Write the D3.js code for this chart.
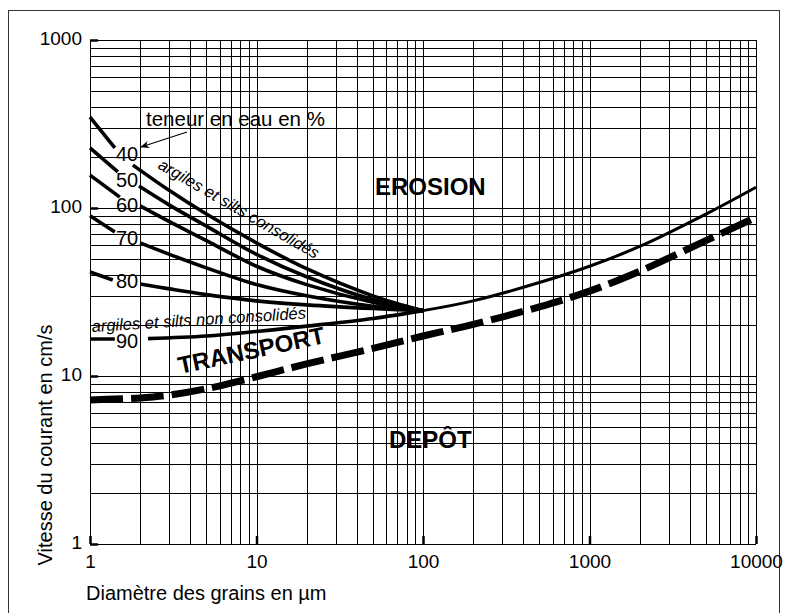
<!DOCTYPE html>
<html>
<head>
<meta charset="utf-8">
<script src="https://cdn.jsdelivr.net/npm/d3@7"></script>
<style>
  body { margin: 0; background: #fff; }
  svg text { font-family: "Liberation Sans", Arial, sans-serif; fill: #000; }
</style>
</head>
<body>
<svg id="chart" width="787" height="613"></svg>
<script>
// Hjulström-type diagram: erosion / transport / deposition

const xDecades = [1, 10, 100, 1000, 10000];
const yDecades = [1, 10, 100, 1000];

// erosion curves for cohesive clays/silts, by water content (%)
// null = gap where the label sits
const waterContents = ["40", "50", "60", "70", "80", "90"];
const curve40 = [[1, 348], [1.41, 228], null, [1.81, 180], [3, 127], [5, 92], [10, 62], [20, 43.5], [50, 30], [100, 24.5]];
const curve50 = [[1, 228], [1.47, 164], null, [1.97, 135], [3, 104], [5, 78], [10, 53], [20, 39], [50, 28.5], [100, 24.5]];
const curve60 = [[1, 157], [1.51, 116], null, [2, 103], [3, 83], [5, 64], [10, 45], [20, 35], [50, 27.5], [100, 24.5]];
const curve70 = [[1, 90], [1.41, 72], null, [2, 62], [3, 53], [5, 44], [10, 35], [20, 30], [50, 26], [100, 24.5]];
const curve80 = [[1, 41.6], [1.37, 37.3], null, [2, 35.3], [3, 33], [5, 30.5], [10, 28], [20, 26.5], [50, 25.2], [100, 24.5]];
const curve90 = [[1, 16.6], [1.41, 16.6], null, [2.23, 16.7], [5, 17.3], [10, 18.4], [20, 19.8], [50, 22], [100, 24.5]];

// erosion curve for sand / gravel
const erosionRight = [[100, 24.5], [200, 28], [500, 36], [1000, 45], [2000, 59], [5000, 92], [10000, 133]];

// deposition limit (dashed)
const deposition = [[1, 7.2], [2, 7.4], [3, 7.7], [5, 8.4], [10, 9.9], [20, 11.8], [50, 14.6], [100, 17.3],
    [200, 20.3], [500, 25.8], [1000, 32], [2000, 42], [5000, 64], [10000, 88]];

const svg = d3.select("#chart");
const plotLeft = 90, plotRight = 756, plotTop = 40, plotBottom = 544;

const x = d3.scaleLog().domain([1, 10000]).range([plotLeft, plotRight]);
const y = d3.scaleLog().domain([1, 1000]).range([plotBottom, plotTop]);

// outer frame
svg.append("rect")
    .attr("x", 8.5).attr("y", 10.5)
    .attr("width", 771).attr("height", 620)
    .attr("fill", "none").attr("stroke", "#333").attr("stroke-width", 1);

// grid values 1..9 per decade
const xGridVals = [];
for (let k = 0; k < 4; k++) for (let m = 1; m < 10; m++) xGridVals.push(m * Math.pow(10, k));
xGridVals.push(10000);
const yGridVals = [];
for (let k = 0; k < 3; k++) for (let m = 1; m < 10; m++) yGridVals.push(m * Math.pow(10, k));
yGridVals.push(1000);

svg.append("g")
    .attr("transform", `translate(0,${plotBottom})`)
    .call(d3.axisBottom(x).tickValues(xGridVals).tickSize(-(plotBottom - plotTop)).tickFormat(""))
    .call(g => g.select(".domain").remove())
    .call(g => g.selectAll("line").attr("stroke", "#000").attr("stroke-width", 1).attr("shape-rendering", "crispEdges"));

svg.append("g")
    .attr("transform", `translate(${plotLeft},0)`)
    .call(d3.axisLeft(y).tickValues(yGridVals).tickSize(-(plotRight - plotLeft)).tickFormat(""))
    .call(g => g.select(".domain").remove())
    .call(g => g.selectAll("line").attr("stroke", "#000").attr("stroke-width", 1).attr("shape-rendering", "crispEdges"));

// inward major ticks
svg.append("g")
    .attr("transform", `translate(0,${plotBottom})`)
    .call(d3.axisBottom(x).tickValues(xDecades).tickSize(-8).tickFormat(""))
    .call(g => g.select(".domain").remove())
    .call(g => g.selectAll("line").attr("stroke", "#000").attr("stroke-width", 2.5));

svg.append("g")
    .attr("transform", `translate(${plotLeft},0)`)
    .call(d3.axisLeft(y).tickValues(yDecades).tickSize(-8).tickFormat(""))
    .call(g => g.select(".domain").remove())
    .call(g => g.selectAll("line").attr("stroke", "#000").attr("stroke-width", 2.5));

// tick labels
svg.append("g")
    .attr("transform", `translate(0,${plotBottom})`)
    .call(d3.axisBottom(x).tickValues(xDecades).tickSize(0).tickPadding(10.5).tickFormat(d3.format("d")))
    .call(g => g.select(".domain").remove())
    .call(g => g.selectAll("text").attr("font-size", 19).attr("font-family", "Liberation Sans, Arial, sans-serif"));

svg.append("g")
    .attr("transform", `translate(${plotLeft},0)`)
    .call(d3.axisLeft(y).tickValues(yDecades).tickSize(0).tickPadding(8).tickFormat(d3.format("d")))
    .call(g => g.select(".domain").remove())
    .call(g => g.selectAll("text").attr("font-size", 19).attr("dy", "0.22em").attr("font-family", "Liberation Sans, Arial, sans-serif"));

// axis titles
svg.append("text")
    .attr("x", 86).attr("y", 600)
    .attr("font-size", 20)
    .text("Diamètre des grains en µm");

svg.append("text")
    .attr("transform", "translate(52,445) rotate(-90)")
    .attr("text-anchor", "middle")
    .attr("font-size", 20)
    .text("Vitesse du courant en cm/s");

// curves
const line = d3.line()
    .defined(d => d !== null)
    .x(d => x(d[0]))
    .y(d => y(d[1]))
    .curve(d3.curveCatmullRom.alpha(0.5));

const curves = [curve40, curve50, curve60, curve70, curve80, curve90];
svg.append("g")
    .selectAll("path")
    .data(curves)
    .join("path")
    .attr("d", line)
    .attr("fill", "none")
    .attr("stroke", "#000")
    .attr("stroke-width", 3.6);

svg.append("path")
    .datum(erosionRight)
    .attr("d", line)
    .attr("fill", "none")
    .attr("stroke", "#000")
    .attr("stroke-width", 3);

svg.append("path")
    .datum(deposition)
    .attr("d", line)
    .attr("fill", "none")
    .attr("stroke", "#000")
    .attr("stroke-width", 7)
    .attr("stroke-dasharray", "33,8");

// water content labels
const labelBaselines = [161, 187, 212, 245, 288, 348];
svg.append("g")
    .selectAll("text")
    .data(waterContents)
    .join("text")
    .attr("x", 127)
    .attr("y", (d, i) => labelBaselines[i])
    .attr("text-anchor", "middle")
    .attr("font-size", 20)
    .text(d => d);

// annotation with arrow
svg.append("defs").append("marker")
    .attr("id", "arrow")
    .attr("viewBox", "0 0 10 10")
    .attr("refX", 9).attr("refY", 5)
    .attr("markerWidth", 9).attr("markerHeight", 9)
    .attr("markerUnits", "userSpaceOnUse")
    .attr("orient", "auto")
    .append("path")
    .attr("d", "M0,1 L10,5 L0,9 L3,5 Z")
    .attr("fill", "#000");

svg.append("line")
    .attr("x1", 187).attr("y1", 132)
    .attr("x2", 141).attr("y2", 147)
    .attr("stroke", "#000").attr("stroke-width", 1.3)
    .attr("marker-end", "url(#arrow)");

svg.append("text")
    .attr("x", 146).attr("y", 126)
    .attr("font-size", 20.5)
    .text("teneur en eau en %");

svg.append("text")
    .attr("transform", "translate(157,168) rotate(30)")
    .attr("font-size", 16.5)
    .attr("font-style", "italic")
    .text("argiles et silts consolidés");

svg.append("text")
    .attr("transform", "translate(92,332) rotate(-3.6)")
    .attr("font-size", 16.5)
    .attr("font-style", "italic")
    .text("argiles et silts non consolidés");

// zone labels
svg.append("text")
    .attr("x", 375).attr("y", 195)
    .attr("font-size", 24).attr("font-weight", "bold")
    .text("EROSION");

svg.append("text")
    .attr("transform", "translate(180,374) rotate(-12)")
    .attr("font-size", 24).attr("font-weight", "bold")
    .text("TRANSPORT");

svg.append("text")
    .attr("x", 389).attr("y", 448)
    .attr("font-size", 24).attr("font-weight", "bold")
    .text("DEPÔT");
</script>
</body>
</html>
